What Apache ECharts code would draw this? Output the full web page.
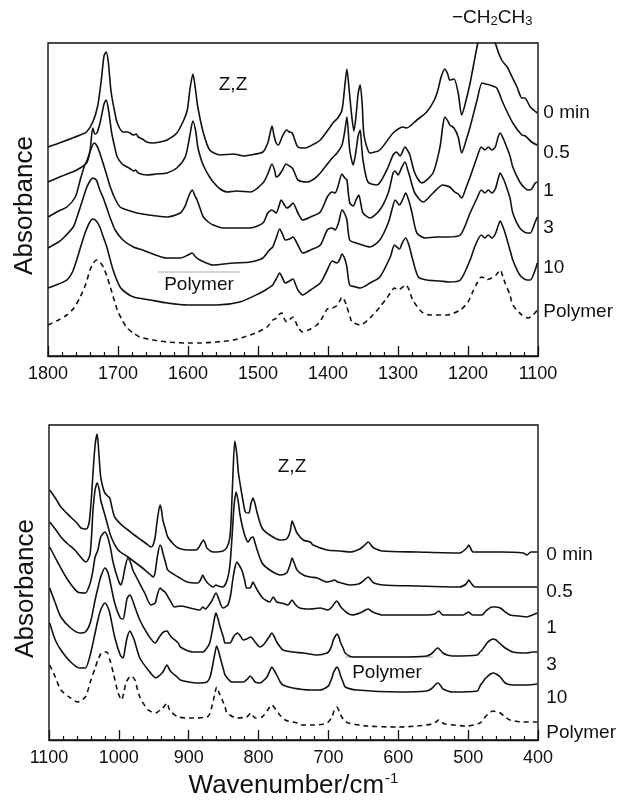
<!DOCTYPE html>
<html><head><meta charset="utf-8">
<script src="https://cdn.jsdelivr.net/npm/echarts@6/dist/echarts.min.js"></script>
<style>html,body{margin:0;padding:0;background:#fff}#c{width:623px;height:803px}</style>
</head><body><div id="c"></div><script>
// ---------- DATA (wavenumber / cm-1, absorbance in offset arbitrary units) ----------
const seriesNames = ['0 min', '0.5', '1', '3', '10', 'Polymer'];

// Upper panel: 1800 - 1100 cm-1
const top0min = [[1800,209],[1780,214],[1754,221],[1745,224],[1736,234],[1729,250],[1724,275],[1720,300],[1717,304],[1714,295],[1710,265],[1705,245],[1701,233],[1693,224],[1686,224],[1678,221],[1674,222],[1671,219],[1665,217],[1659,214],[1651,213],[1640,214],[1630,216],[1616,223],[1606,236],[1601,246],[1597,268],[1593,282],[1589,265],[1586,249],[1578,223],[1569,206],[1554,201],[1535,202],[1520,200],[1511,201],[1493,204],[1486,213],[1483,222],[1480,230],[1477,220],[1474,213],[1471,211],[1465,220],[1459,226],[1455,224],[1451,223],[1443,209],[1433,208],[1420,212],[1411,216],[1397,229],[1393,233],[1386,238],[1380,246],[1376,270],[1373,287],[1370,268],[1367,246],[1363,225],[1360,240],[1357,262],[1354,271],[1351,250],[1349,223],[1345,210],[1340,203],[1326,206],[1307,223],[1293,229],[1288,228],[1273,236],[1259,244],[1248,256],[1243,266],[1238,280],[1233,287],[1229,282],[1226,276],[1220,277],[1214,263],[1209,241],[1203,255],[1197,273],[1191,295],[1186,313],[1180,330],[1172,338],[1165,328],[1161,313],[1152,296],[1144,289],[1137,279],[1130,269],[1123,258],[1119,258],[1111,249],[1101,243]];
const top05 = [[1800,174],[1780,180],[1759,186],[1745,193],[1740,205],[1736,228],[1733,222],[1730,223],[1725,235],[1720,252],[1717,256],[1714,248],[1709,223],[1705,210],[1701,199],[1694,192],[1687,189],[1682,187],[1678,185],[1675,186],[1671,183],[1659,181],[1645,182],[1630,183],[1616,188],[1604,199],[1598,218],[1593,235],[1589,225],[1586,209],[1581,196],[1577,189],[1570,180],[1564,174],[1554,167],[1544,164],[1530,165],[1511,164],[1493,173],[1486,182],[1480,192],[1476,185],[1474,179],[1471,180],[1465,186],[1460,192],[1455,190],[1451,188],[1447,182],[1443,176],[1430,174],[1420,177],[1411,183],[1394,198],[1387,203],[1380,211],[1376,225],[1373,239],[1369,206],[1364,191],[1360,205],[1357,220],[1354,226],[1352,210],[1350,196],[1343,174],[1330,171],[1316,186],[1307,201],[1302,204],[1297,200],[1290,209],[1285,204],[1283,201],[1276,183],[1266,173],[1250,183],[1240,209],[1236,230],[1233,239],[1228,234],[1226,231],[1220,228],[1214,219],[1209,203],[1203,215],[1197,229],[1187,256],[1180,273],[1175,272],[1169,271],[1159,268],[1150,253],[1136,233],[1123,221],[1118,220],[1109,214],[1101,211]];
const top1 = [[1800,139],[1785,145],[1773,149],[1761,159],[1754,176],[1748,190],[1744,196],[1738,208],[1734,213],[1730,210],[1726,203],[1721,192],[1717,183],[1711,169],[1704,157],[1697,149],[1687,146],[1678,144],[1665,142],[1645,140],[1630,139],[1611,143],[1604,150],[1601,156],[1597,163],[1594,166],[1590,160],[1587,156],[1582,146],[1578,139],[1571,134],[1564,131],[1550,128],[1535,128],[1511,128],[1493,133],[1486,143],[1480,146],[1476,144],[1474,143],[1470,150],[1467,156],[1463,152],[1459,148],[1454,150],[1450,153],[1446,148],[1443,143],[1436,136],[1425,139],[1411,144],[1401,159],[1394,164],[1390,163],[1386,169],[1380,182],[1376,178],[1373,176],[1369,153],[1364,150],[1360,156],[1356,161],[1353,152],[1350,143],[1340,138],[1326,146],[1314,163],[1307,183],[1304,185],[1300,181],[1295,188],[1290,194],[1286,186],[1283,179],[1276,163],[1264,154],[1250,163],[1236,171],[1230,170],[1226,169],[1219,164],[1214,162],[1209,158],[1203,168],[1197,179],[1187,199],[1181,209],[1176,206],[1171,209],[1166,206],[1161,209],[1157,219],[1154,223],[1150,218],[1147,213],[1140,200],[1136,189],[1126,174],[1119,168],[1114,166],[1109,167],[1104,173],[1101,174]];
const top3 = [[1800,108],[1785,114],[1778,118],[1764,129],[1758,140],[1752,153],[1745,168],[1740,175],[1736,178],[1731,176],[1726,166],[1721,158],[1716,148],[1710,136],[1704,126],[1693,116],[1678,109],[1665,106],[1654,103],[1630,98],[1611,98],[1600,101],[1594,103],[1589,99],[1583,96],[1564,91],[1535,93],[1511,94],[1493,98],[1485,105],[1479,109],[1474,118],[1469,127],[1465,122],[1461,116],[1455,117],[1450,119],[1446,115],[1443,111],[1436,103],[1425,106],[1411,111],[1401,126],[1394,128],[1390,126],[1385,133],[1380,146],[1376,142],[1373,136],[1369,116],[1360,113],[1351,111],[1340,109],[1326,116],[1314,133],[1308,148],[1304,156],[1298,151],[1293,157],[1289,163],[1284,154],[1280,143],[1273,123],[1261,118],[1245,119],[1230,119],[1211,121],[1197,143],[1187,158],[1181,166],[1176,163],[1171,166],[1166,163],[1161,167],[1157,177],[1154,183],[1150,178],[1147,173],[1140,158],[1136,143],[1126,128],[1116,123],[1111,123],[1104,134],[1101,139]];
const top10 = [[1800,68],[1785,72],[1773,76],[1765,84],[1759,96],[1753,110],[1747,123],[1741,133],[1736,137],[1731,135],[1726,129],[1721,119],[1716,109],[1707,86],[1697,69],[1688,63],[1678,59],[1654,56],[1630,53],[1601,51],[1559,51],[1526,54],[1497,63],[1487,67],[1479,71],[1474,77],[1469,83],[1465,78],[1461,73],[1455,75],[1450,77],[1446,71],[1443,66],[1436,61],[1425,66],[1411,73],[1401,86],[1394,95],[1387,93],[1383,97],[1380,102],[1376,97],[1373,89],[1369,71],[1360,69],[1354,68],[1340,73],[1326,79],[1311,99],[1305,111],[1298,107],[1294,113],[1289,118],[1284,110],[1280,99],[1271,79],[1259,76],[1240,75],[1226,74],[1211,76],[1197,96],[1190,110],[1181,121],[1176,118],[1171,121],[1166,118],[1161,122],[1157,130],[1154,135],[1150,129],[1147,123],[1140,106],[1136,96],[1126,81],[1116,76],[1111,76],[1104,86],[1101,93]];
const topPolymer = [[1800,31],[1785,36],[1773,41],[1763,48],[1754,59],[1746,72],[1740,86],[1735,93],[1731,96],[1726,94],[1721,89],[1716,80],[1711,69],[1701,46],[1694,36],[1687,28],[1678,23],[1669,19],[1650,16],[1630,14],[1600,13],[1583,13],[1560,14],[1535,16],[1511,21],[1500,24],[1487,29],[1479,36],[1473,38],[1469,42],[1466,43],[1463,38],[1459,34],[1454,37],[1450,39],[1446,34],[1443,29],[1436,24],[1425,27],[1416,31],[1410,36],[1401,47],[1394,48],[1388,50],[1384,54],[1380,59],[1376,55],[1373,49],[1368,38],[1366,34],[1354,31],[1340,38],[1326,49],[1316,58],[1311,63],[1305,68],[1300,66],[1295,68],[1289,71],[1284,66],[1279,56],[1266,44],[1254,41],[1230,41],[1211,46],[1200,54],[1194,63],[1187,73],[1181,79],[1177,78],[1173,76],[1170,77],[1166,78],[1160,81],[1154,86],[1150,79],[1147,73],[1140,61],[1136,51],[1123,41],[1114,38],[1107,41],[1101,46]];

// Lower panel: 1100 - 400 cm-1
const bot0min = [[1099,250],[1090,241],[1083,233],[1069,223],[1060,217],[1054,212],[1047,211],[1043,216],[1041,227],[1039,245],[1037,267],[1034,295],[1031,306],[1029,290],[1026,263],[1023,253],[1020,247],[1016,244],[1013,242],[1010,233],[1006,223],[996,215],[987,210],[978,205],[968,200],[960,196],[954,193],[951,195],[948,203],[945,220],[941,235],[939,230],[937,220],[933,210],[930,203],[922,196],[915,192],[902,190],[890,190],[886,192],[882,197],[879,200],[876,196],[874,192],[865,188],[851,189],[845,193],[841,203],[839,225],[837,260],[834,299],[831,285],[829,268],[825,250],[822,238],[819,228],[814,227],[811,236],[808,242],[805,236],[802,227],[795,212],[784,205],[769,200],[760,201],[755,208],[752,219],[749,214],[745,207],[736,200],[726,198],[722,195],[702,190],[683,189],[669,188],[655,191],[648,195],[643,198],[638,194],[635,192],[623,189],[573,188],[512,187],[502,192],[499,195],[496,191],[493,188],[454,188],[421,187],[416,185],[410,188],[401,188]];
const bot05 = [[1099,218],[1090,210],[1083,203],[1073,196],[1063,190],[1051,180],[1047,178],[1043,182],[1041,187],[1039,205],[1037,230],[1034,250],[1031,257],[1028,250],[1026,240],[1022,230],[1018,220],[1011,203],[1001,190],[987,183],[968,173],[956,166],[951,163],[948,168],[945,183],[941,195],[939,193],[937,187],[933,177],[930,170],[915,163],[902,158],[887,157],[883,160],[880,165],[877,161],[873,157],[865,153],[861,155],[858,154],[851,153],[845,160],[841,175],[838,203],[835,235],[832,248],[829,238],[827,227],[823,213],[819,203],[815,198],[811,202],[808,203],[805,197],[802,190],[795,177],[784,170],[769,165],[760,167],[755,175],[752,182],[749,177],[745,170],[736,165],[726,163],[716,162],[702,158],[695,159],[691,160],[687,158],[681,157],[669,155],[657,156],[652,158],[647,161],[643,163],[639,160],[635,157],[622,155],[573,154],[512,153],[503,156],[499,160],[496,157],[490,153],[454,153],[401,153]];
const bot1 = [[1099,193],[1087,177],[1073,160],[1059,148],[1048,147],[1041,157],[1037,170],[1034,183],[1030,190],[1026,203],[1020,208],[1016,203],[1012,192],[1008,177],[1001,160],[997,155],[994,162],[991,173],[987,182],[983,177],[980,170],[975,163],[963,147],[954,135],[948,137],[945,145],[941,152],[938,150],[934,148],[927,140],[920,133],[912,134],[898,132],[884,130],[880,133],[876,131],[873,133],[867,139],[865,142],[861,147],[857,141],[854,135],[851,132],[844,135],[840,145],[837,160],[834,172],[831,178],[828,175],[824,170],[820,160],[817,152],[812,152],[808,158],[805,154],[802,150],[794,142],[784,138],[779,143],[774,138],[767,137],[758,135],[752,140],[748,136],[741,132],[726,131],[712,132],[701,130],[695,133],[691,137],[688,139],[684,135],[681,132],[673,127],[666,125],[655,127],[647,130],[643,131],[639,129],[633,127],[622,125],[559,125],[548,126],[542,129],[538,126],[536,125],[507,125],[502,127],[499,128],[496,126],[493,125],[480,125],[476,128],[473,130],[466,133],[462,133],[454,132],[447,128],[440,125],[428,124],[416,123],[408,125],[401,127]];
const bot3 = [[1099,152],[1091,137],[1083,123],[1069,112],[1056,107],[1048,108],[1041,117],[1034,140],[1030,152],[1026,163],[1020,172],[1016,168],[1013,160],[1006,137],[998,122],[994,121],[991,130],[988,142],[984,145],[981,141],[978,135],[970,120],[958,105],[948,97],[943,102],[940,105],[936,108],[931,109],[928,106],[925,103],[915,97],[912,93],[894,88],[880,88],[874,92],[870,97],[866,110],[863,122],[861,127],[858,121],[855,113],[850,102],[848,97],[841,97],[836,103],[834,105],[830,107],[826,104],[822,100],[817,101],[811,103],[808,101],[805,98],[798,93],[792,96],[788,100],[784,104],[781,107],[778,104],[774,98],[769,93],[765,90],[751,88],[736,87],[716,85],[702,87],[698,90],[695,95],[693,100],[690,104],[688,106],[685,103],[683,98],[679,92],[676,87],[665,83],[640,83],[598,83],[559,84],[553,86],[550,88],[546,91],[543,92],[540,90],[536,87],[530,85],[522,84],[487,85],[483,88],[480,90],[476,94],[473,97],[468,100],[464,101],[460,100],[457,98],[452,95],[447,92],[436,88],[416,87],[408,88],[401,88]];
const bot10 = [[1099,117],[1091,100],[1083,90],[1069,78],[1056,72],[1048,72],[1041,85],[1034,107],[1030,120],[1026,130],[1020,137],[1016,133],[1013,127],[1006,103],[998,85],[994,82],[991,92],[988,103],[984,109],[981,105],[978,100],[970,82],[958,70],[947,62],[941,65],[937,68],[931,75],[928,71],[925,68],[915,62],[912,60],[900,58],[888,57],[874,58],[870,62],[867,70],[863,85],[860,94],[857,88],[854,80],[850,70],[848,65],[838,58],[829,58],[822,58],[816,61],[812,64],[808,61],[805,58],[798,57],[792,60],[788,63],[784,69],[781,73],[778,70],[774,65],[769,58],[765,55],[751,52],[726,50],[712,50],[700,54],[698,57],[695,62],[693,67],[690,71],[688,73],[685,70],[683,65],[679,58],[676,53],[659,50],[598,48],[559,49],[553,51],[550,53],[546,56],[543,57],[539,54],[536,51],[522,48],[487,49],[483,54],[480,57],[476,61],[473,63],[468,66],[464,67],[460,66],[454,63],[447,57],[436,55],[416,55],[401,56]];
const botPolymer = [[1099,75],[1091,63],[1083,50],[1069,42],[1059,38],[1048,43],[1040,60],[1034,72],[1030,80],[1026,86],[1023,88],[1019,88],[1016,87],[1012,78],[1008,67],[1001,47],[996,40],[993,47],[990,57],[986,62],[983,64],[980,63],[977,60],[970,43],[958,30],[947,27],[941,30],[937,32],[931,37],[928,31],[925,28],[915,23],[898,22],[874,23],[870,26],[867,33],[863,45],[860,53],[857,48],[852,40],[848,33],[845,27],[831,22],[817,23],[814,25],[811,27],[808,24],[804,22],[795,23],[787,30],[781,35],[777,32],[772,27],[762,20],[745,17],[741,15],[720,15],[702,17],[695,23],[692,29],[688,33],[684,28],[681,23],[676,19],[672,17],[645,14],[600,13],[573,14],[552,16],[546,18],[542,20],[538,18],[533,16],[502,14],[483,17],[478,21],[473,25],[468,28],[464,29],[459,28],[454,27],[447,23],[440,20],[421,18],[401,18]];

const topSeriesData = [top0min, top05, top1, top3, top10, topPolymer];
const botSeriesData = [bot0min, bot05, bot1, bot3, bot10, botPolymer];

// ---------- STYLE ----------
const INK = '#111';
const SANS = "'Liberation Sans', Arial, Helvetica, sans-serif";
const topLabelDy = [0, 8, 9, 11, 5, 2];
const botLabelDy = [3, 5, 15, 13, 14, 11];

function makeSeries(data, idx, gridIdx, dy, dx) {
  const dashed = idx === seriesNames.length - 1;
  return {
    type: 'line',
    name: seriesNames[idx] + (gridIdx ? ' (low)' : ''),
    xAxisIndex: gridIdx, yAxisIndex: gridIdx,
    data: data,
    showSymbol: false, symbol: 'none',
    smooth: 0.25,
    clip: true,
    lineStyle: { color: INK, width: 1.6, type: dashed ? [5, 4] : 'solid' },
    endLabel: {
      show: true, formatter: seriesNames[idx],
      color: INK, fontSize: 19, fontFamily: SANS,
      align: 'left', verticalAlign: 'middle', distance: 0, offset: [dx, dy]
    },
    emphasis: { disabled: true }
  };
}

function xAxisCfg(gridIdx, min, max, withName) {
  const cfg = {
    type: 'value', gridIndex: gridIdx, min: min, max: max, interval: 100, inverse: true,
    axisLine: { show: true, lineStyle: { color: INK, width: 1.4 } },
    axisTick: { show: true, inside: true, length: 10, lineStyle: { color: INK, width: 1.3 } },
    minorTick: { show: true, splitNumber: 5, length: 4, lineStyle: { color: INK, width: 1.2 } },
    splitLine: { show: false }, minorSplitLine: { show: false },
    axisLabel: { color: INK, fontSize: 18, fontFamily: SANS, margin: 9, formatter: v => String(v) }
  };
  if (withName) {
    cfg.name = 'Wavenumber/cm{sup|-1}';
    cfg.nameLocation = 'middle';
    cfg.nameGap = 31;
    cfg.nameTextStyle = { color: INK, fontSize: 26, fontFamily: SANS, lineHeight: 30,
      rich: { sup: { fontSize: 15, lineHeight: 30, verticalAlign: 'top', padding: [0, 0, 14, 1], fontFamily: SANS, color: INK } } };
  }
  return cfg;
}
function yAxisCfg(gridIdx, max) {
  return {
    type: 'value', gridIndex: gridIdx, min: 0, max: max,
    axisLine: { show: false }, axisTick: { show: false }, axisLabel: { show: false },
    splitLine: { show: false },
    name: 'Absorbance', nameLocation: 'middle', nameGap: 10,
    nameTextStyle: { color: INK, fontSize: 26, fontFamily: SANS, padding: [0, 12, 0, 0] }
  };
}

const series = [];
topSeriesData.forEach((d, i) => series.push(makeSeries(d, i, 0, topLabelDy[i], 6)));
botSeriesData.forEach((d, i) => series.push(makeSeries(d, i, 1, botLabelDy[i], 9)));

const chart = echarts.init(document.getElementById('c'), null, { renderer: 'canvas' });
chart.setOption({
  animation: false,
  backgroundColor: '#fff',
  grid: [
    { left: 48, top: 43, width: 490, height: 313, show: true, borderColor: INK, borderWidth: 1.4, backgroundColor: 'transparent' },
    { left: 49, top: 425, width: 489, height: 315, show: true, borderColor: INK, borderWidth: 1.4, backgroundColor: 'transparent' }
  ],
  xAxis: [xAxisCfg(0, 1100, 1800, false), xAxisCfg(1, 400, 1100, true)],
  yAxis: [yAxisCfg(0, 313), yAxisCfg(1, 315)],
  series: series,
  graphic: [
    { type: 'text', left: 452, top: 8, style: { text: '\u2212CH{s|2}CH{s|3}', fill: INK, font: '19px ' + SANS,
        rich: { s: { fontSize: 13, fontFamily: SANS, verticalAlign: 'bottom', padding: [8, 0, 0, 0] } } } },
    { type: 'text', x: 233, y: 85, style: { text: 'Z,Z', fill: INK, font: '19px ' + SANS, align: 'center', verticalAlign: 'middle' } },
    { type: 'text', x: 292, y: 467, style: { text: 'Z,Z', fill: INK, font: '19px ' + SANS, align: 'center', verticalAlign: 'middle' } },
    { type: 'text', x: 199, y: 285, style: { text: 'Polymer', fill: INK, font: '19px ' + SANS, align: 'center', verticalAlign: 'middle' } },
    { type: 'text', x: 387, y: 673, style: { text: 'Polymer', fill: INK, font: '19px ' + SANS, align: 'center', verticalAlign: 'middle' } },
    { type: 'line', shape: { x1: 158, y1: 272, x2: 240, y2: 272 }, style: { stroke: '#aaa', lineWidth: 1.2 } },
    { type: 'line', shape: { x1: 345, y1: 657, x2: 433, y2: 657 }, style: { stroke: '#aaa', lineWidth: 1.2 } }
  ]
});
</script></body></html>
